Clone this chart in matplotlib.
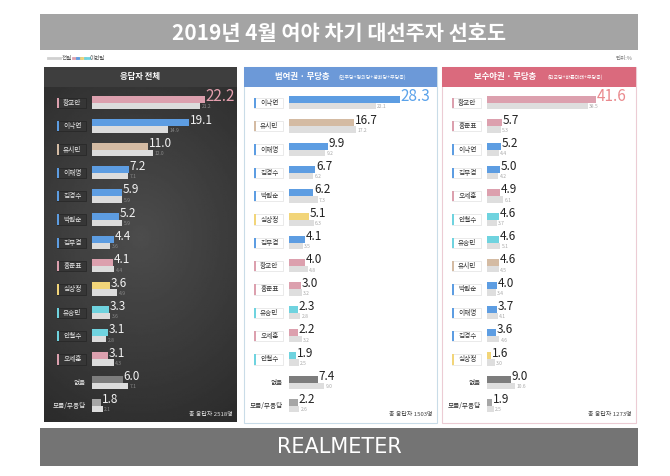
import numpy as np
import matplotlib
matplotlib.use("Agg")
import matplotlib.pyplot as plt
import matplotlib.patches as pat
from matplotlib.transforms import blended_transform_factory

plt.rcParams['font.family'] = ['Noto Sans CJK KR', 'DejaVu Sans']

W, H = 670, 476

# 응답자 전체
names1 = ["황교안", "이낙연", "유시민", "이재명", "김경수", "박원순", "김부겸",
          "홍준표", "심상정", "유승민", "안철수", "오세훈", "없음", "모름/무응답"]
now1 = [22.2, 19.1, 11.0, 7.2, 5.9, 5.2, 4.4, 4.1, 3.6, 3.3, 3.1, 3.1, 6.0, 1.8]
prev1 = [21.2, 14.9, 12.0, 7.1, 5.9, 5.9, 3.6, 4.4, 4.9, 3.6, 2.8, 4.3, 7.1, 2.1]

# 범여권 · 무당층
names2 = ["이낙연", "유시민", "이재명", "김경수", "박원순", "심상정", "김부겸",
          "황교안", "홍준표", "유승민", "오세훈", "안철수", "없음", "모름/무응답"]
now2 = [28.3, 16.7, 9.9, 6.7, 6.2, 5.1, 4.1, 4.0, 3.0, 2.3, 2.2, 1.9, 7.4, 2.2]
prev2 = [22.1, 17.2, 9.2, 6.2, 7.3, 6.3, 3.5, 4.8, 3.2, 2.8, 3.2, 2.5, 9.0, 2.6]

# 보수야권 · 무당층
names3 = ["황교안", "홍준표", "이낙연", "김부겸", "오세훈", "안철수", "유승민",
          "유시민", "박원순", "이재명", "김경수", "심상정", "없음", "모름/무응답"]
now3 = [41.6, 5.7, 5.2, 5.0, 4.9, 4.6, 4.6, 4.6, 4.0, 3.7, 3.6, 1.6, 9.0, 1.9]
prev3 = [38.5, 5.3, 4.4, 4.2, 6.1, 3.7, 5.1, 4.5, 3.4, 4.1, 4.6, 3.0, 10.6, 2.5]

PINK, BLUE, TAN, YEL, CYAN = "#dca0ae", "#5d9de2", "#d4bba3", "#f2d579", "#6fd3df"
colour = {"황교안": PINK, "홍준표": PINK, "오세훈": PINK,
          "이낙연": BLUE, "이재명": BLUE, "김경수": BLUE, "박원순": BLUE, "김부겸": BLUE,
          "유시민": TAN, "심상정": YEL, "유승민": CYAN, "안철수": CYAN,
          "없음": "#7d7d7d", "모름/무응답": "#a6a6a6"}


def px(x0, y0, x1, y1):
    return [x0 / W, 1 - y1 / H, (x1 - x0) / W, (y1 - y0) / H]


def rect(fig, x0, y0, x1, y1, fc, ec="none", lw=0):
    r = pat.Rectangle((x0 / W, 1 - y1 / H), (x1 - x0) / W, (y1 - y0) / H,
                      transform=fig.transFigure, fc=fc, ec=ec, lw=lw, zorder=-2)
    fig.patches.append(r)


def fx(x):
    return x / W


def fy(y):
    return 1 - y / H


def draw_panel(fig, names, now, prev, left, xmax, dark, top_colour):
    ax = fig.add_axes(px(left, 91.35, left + 140, 417.65))
    ax.patch.set_alpha(0)
    ax.set_xlim(0, xmax)
    ax.set_ylim(len(names) - 0.5, -0.5)
    ax.axis("off")
    y = np.arange(len(names))
    cols = [colour[n] for n in names]
    prev_col = "#dcdcdc" if dark else "#dedede"
    ax.barh(y - 0.15, now, height=0.3, color=cols)
    ax.barh(y + 0.135, prev, height=0.27, color=prev_col)
    trans = blended_transform_factory(ax.transAxes, ax.transData)
    txt_col = "#f2f2f2" if dark else "#222222"
    name_col = "#e8e8e8" if dark else "#333333"
    for i, n in enumerate(names):
        if n in ("없음", "모름/무응답"):
            ax.text(-0.045, i, n, transform=trans, ha="right", va="center",
                    fontsize=4.8, color=name_col)
        else:
            ax.add_patch(pat.Rectangle((-0.25, i - 0.22), 0.21, 0.44, transform=trans,
                                       fc="#363636" if dark else "white",
                                       ec="#262626" if dark else "#e2e2e2",
                                       lw=0.5, clip_on=False))
            ax.add_patch(pat.Rectangle((-0.25, i - 0.22), 0.011, 0.44, transform=trans,
                                       fc=cols[i], ec="none", clip_on=False))
            ax.text(-0.14, i, n, transform=trans, ha="center", va="center",
                    fontsize=4.8, color=name_col)
        if i == 0:
            ax.text(now[i] + xmax * 0.005, i - 0.3, f"{now[i]:.1f}", ha="left", va="center",
                    fontsize=11, color=top_colour, clip_on=False)
        else:
            ax.text(now[i] + xmax * 0.005, i - 0.27, f"{now[i]:.1f}", ha="left", va="center",
                    fontsize=8.5, color=txt_col, clip_on=False)
        ax.text(prev[i] + xmax * 0.01, i + 0.17, f"{prev[i]:.1f}", ha="left", va="center",
                fontsize=3.6, color="#8a8a8a" if dark else "#a8a8a8", clip_on=False)
    return ax


fig = plt.figure(figsize=(6.7, 4.76), dpi=100)
fig.patch.set_facecolor("white")

# title banner
rect(fig, 40, 14, 638, 50, "#a4a4a4")
fig.text(fx(339), fy(33), "2019년 4월 여야 차기 대선주자 선호도", ha="center", va="center",
         fontsize=15, fontweight="bold", color="white")

# legend
fig.lines.append(plt.Line2D([fx(48), fx(60)], [fy(58), fy(58)], transform=fig.transFigure,
                            color="#d0d0d0", lw=2))
fig.text(fx(62), fy(58), "전월", ha="left", va="center", fontsize=4, color="#555555")
for k, c in enumerate([PINK, BLUE, YEL, CYAN]):
    fig.lines.append(plt.Line2D([fx(73 + 4 * k), fx(77 + 4 * k)], [fy(58), fy(58)],
                                transform=fig.transFigure, color=c, lw=2))
fig.text(fx(90), fy(58), "이번달", ha="left", va="center", fontsize=4, color="#555555")
fig.text(fx(632), fy(58), "단위:%", ha="right", va="center", fontsize=4, color="#777777")

# panel 1 (dark, soft radial gradient)
grad = fig.add_axes(px(44, 87, 237, 422))
grad.set_zorder(-1)
yy, xx = np.mgrid[-1:1:200j, -1:1:120j]
rr = np.sqrt(xx ** 2 * 0.5 + (yy + 0.1) ** 2)
shade = np.clip(0.30 - 0.10 * rr, 0.17, 0.30)
grad.imshow(shade, cmap="gray", vmin=0, vmax=1, aspect="auto", extent=[0, 1, 0, 1])
grad.axis("off")
rect(fig, 44, 67, 237, 87, "#3e3e3e")
fig.text(fx(140), fy(77), "응답자 전체", ha="center", va="center", fontsize=6,
         fontweight="bold", color="white")

# panel 2
rect(fig, 244, 67, 437, 423, "white", ec="#c9dce8", lw=0.8)
rect(fig, 244, 67, 437, 87, "#6c99d8")
fig.text(fx(302), fy(77), "범여권 · 무당층", ha="center", va="center", fontsize=6,
         fontweight="bold", color="white")
fig.text(fx(372), fy(77), "(민주당+정의당+평화당+무당층)", ha="center", va="center",
         fontsize=3.6, color="white")

# panel 3
rect(fig, 442, 67, 636, 423, "white", ec="#ecccd4", lw=0.8)
rect(fig, 442, 67, 636, 87, "#da6a7d")
fig.text(fx(505), fy(77), "보수야권 · 무당층", ha="center", va="center", fontsize=6,
         fontweight="bold", color="white")
fig.text(fx(575), fy(77), "(한국당+바른미래+무당층)", ha="center", va="center",
         fontsize=3.6, color="white")

draw_panel(fig, names1, now1, prev1, 92, 140 / 5.1, True, "#e59fae")
draw_panel(fig, names2, now2, prev2, 289, 140 / 3.92, False, "#5aa2ea")
draw_panel(fig, names3, now3, prev3, 487, 140 / 2.62, False, "#ea8a8e")

fig.text(fx(233), fy(415), "총 응답자 2518명", ha="right", va="center", fontsize=4.3,
         color="#e0e0e0")
fig.text(fx(433), fy(415), "총 응답자 1503명", ha="right", va="center", fontsize=4.3,
         color="#444444")
fig.text(fx(632), fy(415), "총 응답자 1273명", ha="right", va="center", fontsize=4.3,
         color="#444444")

# footer
rect(fig, 40, 428, 638, 466, "#747474")
fig.text(fx(339), fy(447), "REALMETER", ha="center", va="center", fontsize=15,
         color="white", family=["Liberation Sans Narrow", "DejaVu Sans"])

fig.savefig("out.png", dpi=100, facecolor="white")
